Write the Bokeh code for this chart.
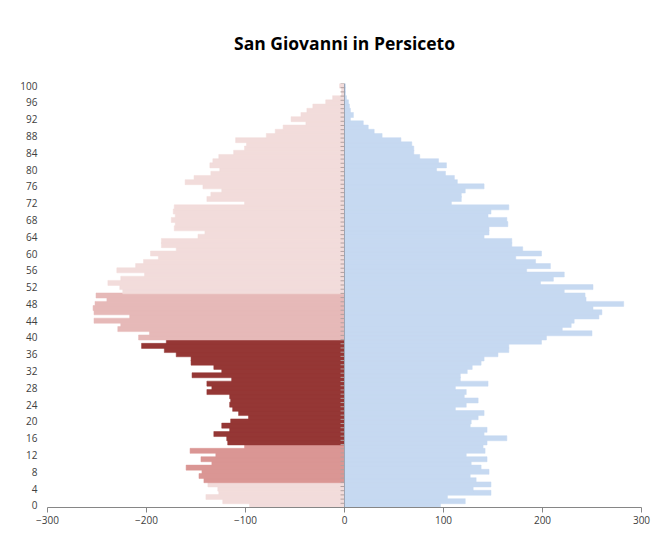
from bokeh.plotting import figure
from bokeh.models import Range1d, FixedTicker, ColumnDataSource
from bokeh.embed import file_html
from bokeh.resources import INLINE

# ---- data ----
ages = list(range(0, 101))
left_values = [96, 123, 140, 127, 128, 138, 142, 147, 144, 160,
               134, 145, 130, 156, 101, 118, 119, 132, 116, 124,
               115, 97, 107, 113, 116, 115, 116, 139, 134, 139,
               114, 154, 124, 132, 155, 155, 170, 182, 205, 180,
               208, 197, 229, 226, 253, 217, 253, 254, 252, 240,
               251, 224, 227, 239, 226, 202, 230, 211, 203, 188,
               196, 170, 185, 185, 148, 141, 172, 171, 175, 171,
               173, 172, 101, 139, 135, 124, 143, 161, 152, 135,
               126, 136, 133, 127, 112, 101, 99, 110, 79, 70,
               62, 39, 54, 44, 38, 32, 19, 12, 3, 3,
               5]
right_values = [97, 122, 104, 148, 130, 148, 133, 127, 146, 138,
                128, 144, 123, 142, 140, 144, 164, 141, 144, 127,
                128, 135, 141, 112, 123, 135, 121, 123, 112, 145,
                117, 117, 124, 129, 138, 141, 155, 166, 166, 199,
                204, 250, 220, 229, 232, 257, 260, 251, 282, 244,
                243, 222, 251, 198, 211, 222, 184, 208, 193, 173,
                199, 180, 169, 169, 141, 146, 146, 165, 164, 145,
                148, 166, 108, 118, 118, 122, 141, 114, 111, 102,
                93, 103, 95, 76, 70, 70, 68, 57, 38, 30,
                24, 19, 6, 9, 6, 5, 4, 2, 1, 1,
                1]
group_starts = [0, 6, 15, 40, 51]
group_colors = ["#F2DCDB", "#DA9694", "#953735", "#E6B9B8", "#F2DCDB"]
right_color = "#C6D9F1"
x_ticks = [-300, -200, -100, 0, 100, 200, 300]
y_ticks = list(range(0, 101, 4))
title_text = "San Giovanni in Persiceto"


def color_for(age):
    c = group_colors[0]
    for s, col in zip(group_starts, group_colors):
        if age >= s:
            c = col
    return c


left_src = ColumnDataSource(dict(
    y=ages,
    left=[-v for v in left_values],
    right=[0] * len(ages),
    color=[color_for(a) for a in ages],
))
right_src = ColumnDataSource(dict(
    y=ages,
    left=[0] * len(ages),
    right=right_values,
))

p = figure(width=656, height=532, output_backend="svg", toolbar_location=None,
           x_range=Range1d(x_ticks[0], x_ticks[-1]),
           y_range=Range1d(ages[0] - 0.5, ages[-1] + 0.5),
           min_border_left=47, min_border_right=15,
           min_border_top=82, min_border_bottom=25)

p.hbar(y="y", left="left", right="right", height=1.2, fill_color="color",
       line_color="color", line_width=0.5, source=left_src)
p.hbar(y="y", left="left", right="right", height=1.2, fill_color=right_color,
       line_color=right_color, line_width=0.5, source=right_src)

# central vertical axis with per-category tick marks
bounds = [a - 0.5 for a in ages] + [ages[-1] + 0.5]
p.segment(x0=[0], y0=[bounds[0]], x1=[0], y1=[bounds[-1]],
          line_color="#9AA6B6", line_width=1)
p.segment(x0=[-4] * len(bounds), y0=bounds, x1=[0] * len(bounds), y1=bounds,
          line_color="#B0A0A0", line_width=1)

p.outline_line_color = None
p.xgrid.visible = False
p.ygrid.visible = False
p.background_fill_color = "white"

p.xaxis.ticker = FixedTicker(ticks=x_ticks)
p.xaxis.axis_line_color = "#868686"
p.xaxis.major_tick_line_color = "#868686"
p.xaxis.major_tick_out = 5
p.xaxis.major_tick_in = 0
p.xaxis.minor_tick_line_color = None
p.xaxis.major_label_text_font = "Open Sans"
p.xaxis.major_label_text_font_size = "10px"
p.xaxis.major_label_text_color = "#404040"
p.xaxis.major_label_standoff = 3

p.yaxis.ticker = FixedTicker(ticks=y_ticks)
p.yaxis.axis_line_color = None
p.yaxis.major_tick_line_color = None
p.yaxis.minor_tick_line_color = None
p.yaxis.major_tick_out = 0
p.yaxis.major_tick_in = 0
p.yaxis.major_label_standoff = 10
p.yaxis.major_label_text_font = "Open Sans"
p.yaxis.major_label_text_font_size = "10px"
p.yaxis.major_label_text_color = "#404040"

p.title.text = title_text
p.title.align = "center"
p.title.text_font = "Open Sans"
p.title.text_font_size = "17.5px"
p.title.text_font_style = "bold"
p.title.text_color = "#000000"
p.title.standoff = 57

open("out.html", "w").write(file_html(p, INLINE))
